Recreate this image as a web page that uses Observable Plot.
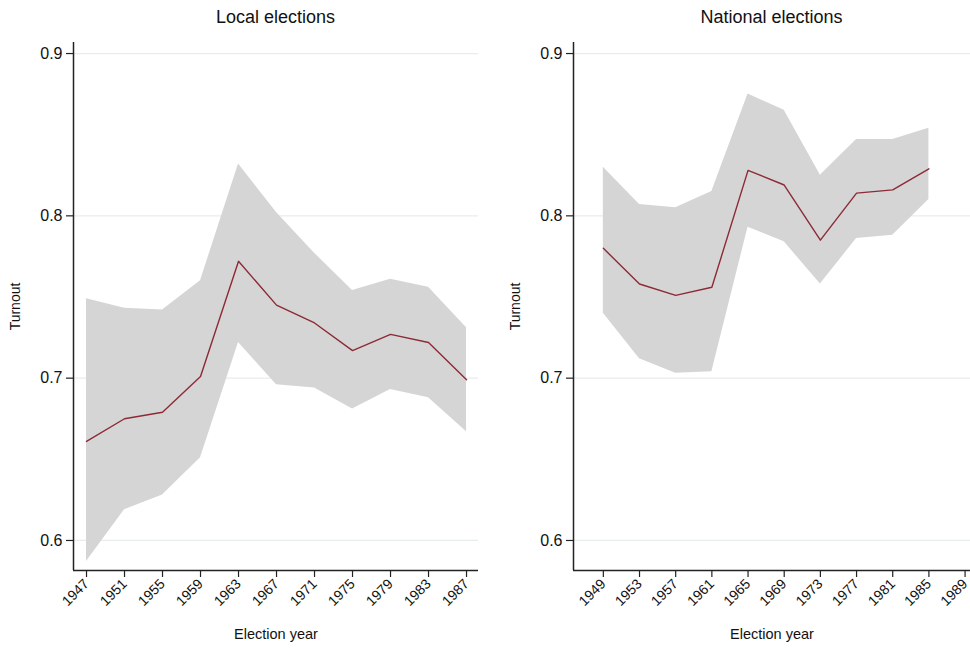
<!DOCTYPE html>
<html>
<head>
<meta charset="utf-8">
<script src="https://cdn.jsdelivr.net/npm/d3@7"></script>
<script src="https://cdn.jsdelivr.net/npm/@observablehq/plot@0.6"></script>
<style>
  html, body { margin: 0; padding: 0; background: #fff; }
  body { width: 970px; height: 649px; overflow: hidden; font-family: "Liberation Sans", Arial, Helvetica, sans-serif; }
  #wrap { display: flex; flex-direction: row; }
  .panel { width: 485px; }
  .title { height: 34px; line-height: 34px; font-size: 18px; color: #111; text-align: center; box-sizing: border-box; }
</style>
</head>
<body>
<div id="wrap"></div>
<script>
// ---- Data ----
const localYears = [1947, 1951, 1955, 1959, 1963, 1967, 1971, 1975, 1979, 1983, 1987];
const localMean  = [0.661, 0.675, 0.679, 0.701, 0.772, 0.745, 0.734, 0.717, 0.727, 0.722, 0.699];
const localUpper = [0.749, 0.743, 0.742, 0.760, 0.832, 0.802, 0.777, 0.754, 0.761, 0.756, 0.731];
const localLower = [0.587, 0.619, 0.628, 0.651, 0.722, 0.696, 0.694, 0.681, 0.693, 0.688, 0.667];

const nationalYears = [1949, 1953, 1957, 1961, 1965, 1969, 1973, 1977, 1981, 1985];
const nationalMean  = [0.780, 0.758, 0.751, 0.756, 0.828, 0.819, 0.785, 0.814, 0.816, 0.829];
const nationalUpper = [0.830, 0.807, 0.805, 0.815, 0.875, 0.865, 0.825, 0.847, 0.847, 0.854];
const nationalLower = [0.740, 0.712, 0.703, 0.704, 0.793, 0.784, 0.758, 0.786, 0.788, 0.810];

const localTicks = [1947, 1951, 1955, 1959, 1963, 1967, 1971, 1975, 1979, 1983, 1987];
const nationalTicks = [1949, 1953, 1957, 1961, 1965, 1969, 1973, 1977, 1981, 1985, 1989];
const yTicks = [0.6, 0.7, 0.8, 0.9];

const titles = ["Local elections", "National elections"];
const xLabel = "Election year";
const yLabel = "Turnout";

const yDomain = [0.5815, 0.9068];
const localXDomain = [1945.63, 1988.26];
const nationalXDomain = [1945.7, 1989.6];

function makeRows(years, mean, lower, upper) {
  return years.map((y, i) => ({year: y, mean: mean[i], lower: lower[i], upper: upper[i]}));
}

function panel(title, rows, xDomain, ticks, marginLeft, marginRight) {
  const div = document.createElement("div");
  div.className = "panel";
  const t = document.createElement("div");
  t.className = "title";
  t.style.paddingLeft = marginLeft + "px";
  t.style.paddingRight = marginRight + "px";
  t.textContent = title;
  div.appendChild(t);
  const chart = Plot.plot({
    width: 485,
    height: 615,
    marginLeft,
    marginRight,
    marginTop: 8,
    marginBottom: 79,
    style: {fontFamily: '"Liberation Sans", Arial, Helvetica, sans-serif', color: "#111", background: "#fff"},
    x: {domain: xDomain},
    y: {domain: yDomain},
    marks: [
      Plot.gridY(yTicks, {stroke: "#e9ecec", strokeOpacity: 1, strokeWidth: 1.2}),
      Plot.areaY(rows, {x: "year", y1: "lower", y2: "upper", fill: "#d5d5d5", fillOpacity: 1}),
      Plot.lineY(rows, {x: "year", y: "mean", stroke: "#8c2a36", strokeWidth: 1.4}),
      Plot.ruleX([xDomain[0]], {stroke: "#222", strokeWidth: 1.5}),
      Plot.ruleY([yDomain[0]], {stroke: "#222", strokeWidth: 1.5}),
      Plot.axisY(yTicks, {tickFormat: ".1f", tickSize: 7, tickPadding: 4, fontSize: 16, stroke: "#222", strokeWidth: 1.2, label: null}),
      Plot.axisY({label: yLabel, labelAnchor: "center", labelArrow: "none", labelOffset: 63, fontSize: 14, ticks: []}),
      Plot.axisX(ticks, {tickFormat: d => String(d), tickSize: 7, tickPadding: 4, tickRotate: -45, fontSize: 14, stroke: "#222", strokeWidth: 1.2, label: null}),
      Plot.axisX({label: xLabel, labelAnchor: "center", labelArrow: "none", labelOffset: 68, fontSize: 14.5, ticks: []})
    ]
  });
  div.appendChild(chart);
  return div;
}

const wrap = document.getElementById("wrap");
wrap.appendChild(panel(titles[0], makeRows(localYears, localMean, localLower, localUpper), localXDomain, localTicks, 73, 7));
wrap.appendChild(panel(titles[1], makeRows(nationalYears, nationalMean, nationalLower, nationalUpper), nationalXDomain, nationalTicks, 88, 0));
</script>
</body>
</html>
